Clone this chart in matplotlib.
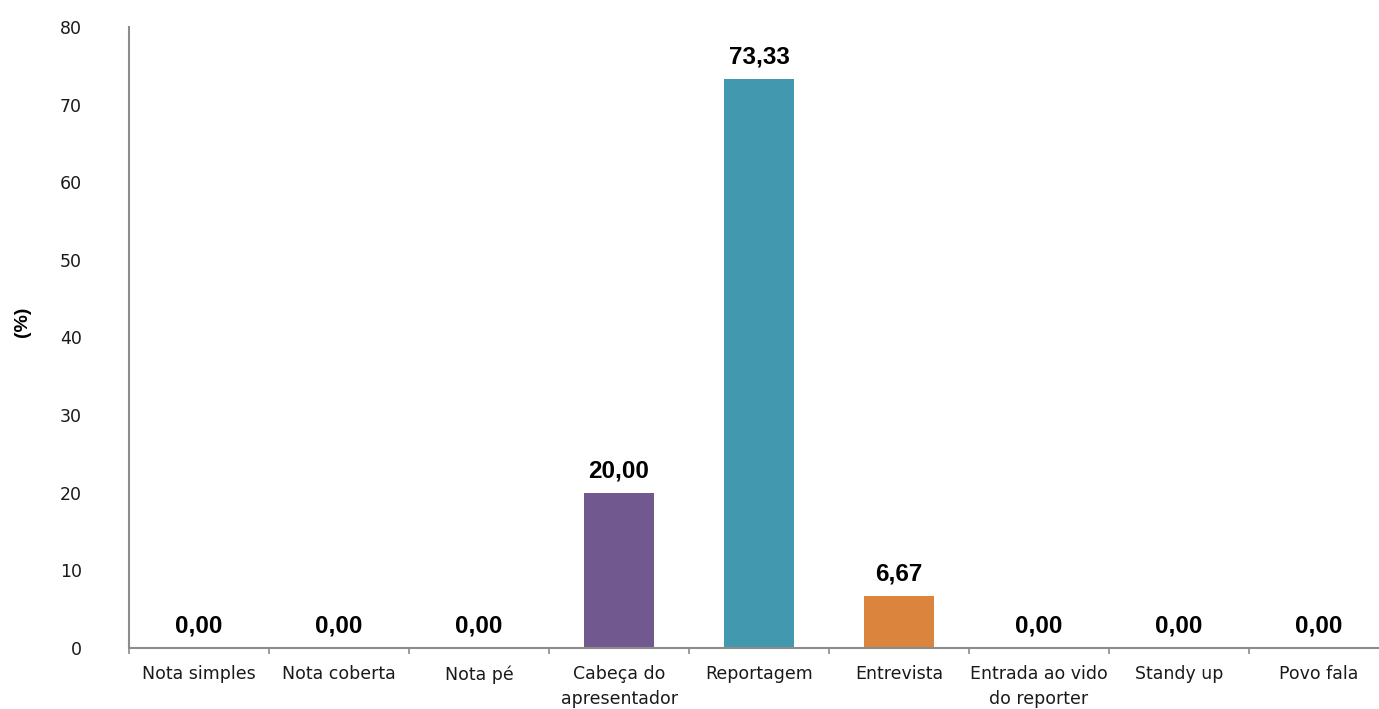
import matplotlib
matplotlib.use("Agg")
import matplotlib.pyplot as plt
import numpy as np

categories = ["Nota simples", "Nota coberta", "Nota pé", "Cabeça do\napresentador",
              "Reportagem", "Entrevista", "Entrada ao vido\ndo reporter", "Standy up", "Povo fala"]
values = [0.00, 0.00, 0.00, 20.00, 73.33, 6.67, 0.00, 0.00, 0.00]
bar_colors = ["#4F81BD", "#C0504D", "#9BBB59", "#71588F", "#4198AF", "#DB843D",
              "#93A9CF", "#D19392", "#B9CD96"]
y_ticks = [0, 10, 20, 30, 40, 50, 60, 70, 80]

W, H = 1379, 709
fig = plt.figure(figsize=(W / 100, H / 100), dpi=100)
ax = fig.add_axes([129 / W, (H - 648) / H, 1260 / W, (648 - 27) / H])

x = np.arange(len(categories))
ax.bar(x, values, width=0.5, color=bar_colors, zorder=2)

label_font = ["Liberation Sans", "DejaVu Sans"]
for xi, v in zip(x, values):
    ax.annotate(f"{v:.2f}".replace(".", ","), xy=(xi, v), xytext=(0, 11),
                textcoords="offset points", ha="center", va="baseline",
                fontsize=17.5, fontweight="bold", family=label_font, color="#000000")

ax.set_xlim(-0.5, len(categories) - 0.5)
ax.set_ylim(0, 80)
ax.set_yticks(y_ticks)
ax.set_yticklabels([str(t) for t in y_ticks])
ax.set_xticks(x)
ax.set_xticklabels(categories, linespacing=1.5)
ax.set_xticks(np.arange(len(categories) + 1) - 0.5, minor=True)

ax.tick_params(axis="y", length=0, pad=34, labelsize=12.5, labelcolor="#1a1a1a")
ax.tick_params(axis="x", which="major", length=0, pad=12.5, labelsize=12.5, labelcolor="#1a1a1a")
ax.tick_params(axis="x", which="minor", length=4.5, width=1.2, color="#8c8c8c")

for s in ["top", "right"]:
    ax.spines[s].set_visible(False)
for s in ["left", "bottom"]:
    ax.spines[s].set_color("#8c8c8c")
    ax.spines[s].set_linewidth(1.5)

fig.text(22 / W, (H - 322) / H, "(%)", rotation=90, ha="center", va="center",
         fontsize=14, fontweight="bold", family=label_font)

fig.savefig("out.png", dpi=100)
